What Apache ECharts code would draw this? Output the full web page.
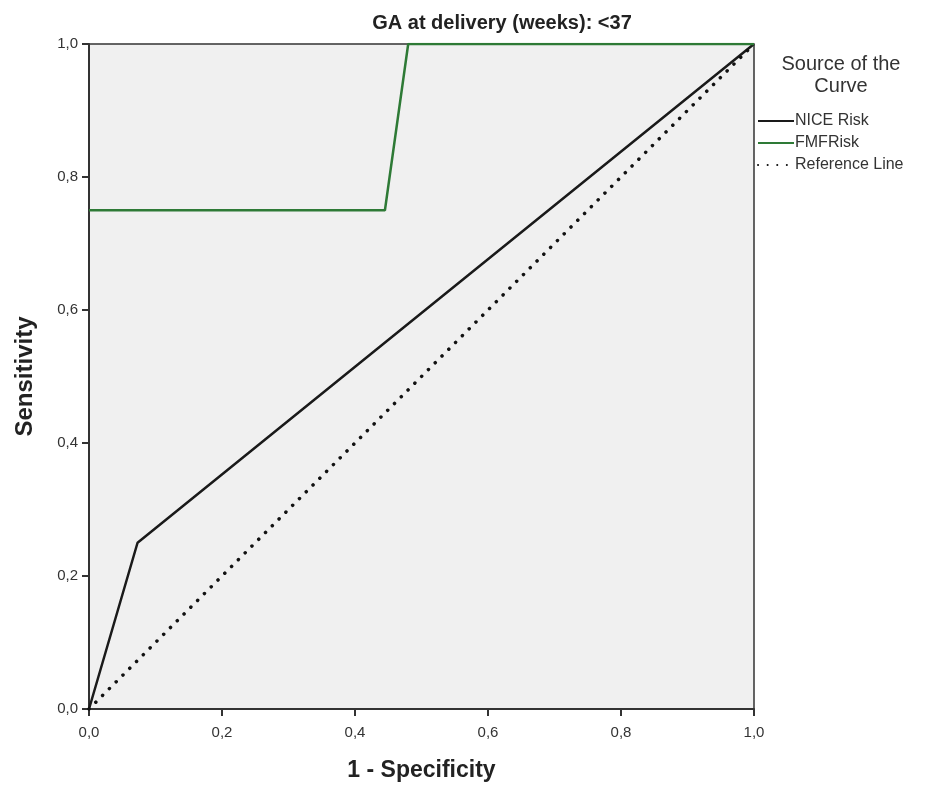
<!DOCTYPE html>
<html>
<head>
<meta charset="utf-8">
<script src="https://cdn.jsdelivr.net/npm/echarts@6/dist/echarts.min.js"></script>
<style>
html,body{margin:0;padding:0;background:#fff;}
#chart{width:927px;height:787px;}
</style>
</head>
<body>
<div id="chart"></div>
<script>
const chartTitle = 'GA at delivery (weeks): <37';
const legendTitle = 'Source of the\nCurve';
const seriesNames = ['NICE Risk', 'FMFRisk', 'Reference Line'];
const niceX = [0, 0.073, 1.0];
const niceY = [0, 0.25, 1.0];
const fmfX = [0, 0.445, 0.48, 1.0];
const fmfY = [0.75, 0.75, 1.0, 1.0];
const refX = [0, 1.0];
const refY = [0, 1.0];

const zip = (xs, ys) => xs.map((x, i) => [x, ys[i]]);
const fmt = v => v.toFixed(1).replace('.', ',');
const font = 'Liberation Sans, Arial, sans-serif';

const chart = echarts.init(document.getElementById('chart'));
chart.setOption({
  animation: false,
  backgroundColor: '#fff',
  title: [
    { text: chartTitle, left: 497, top: 8, textAlign: 'center',
      textStyle: { fontFamily: font, fontSize: 20, fontWeight: 'bold', color: '#222' } },
    { text: legendTitle, left: 836, top: 48, textAlign: 'center',
      textStyle: { fontFamily: font, fontSize: 20, fontWeight: 'normal', color: '#333', lineHeight: 22 } }
  ],
  grid: { left: 89, right: 173, top: 44, bottom: 78, show: true,
    backgroundColor: '#f0f0f0', borderColor: '#333', borderWidth: 1.5 },
  legend: {
    orient: 'vertical', left: 752, top: 108, itemWidth: 36, itemHeight: 14, itemGap: 6,
    itemStyle: { opacity: 0 },
    textStyle: { fontFamily: font, fontSize: 16, color: '#333', padding: [0,0,0,-4] },
    data: seriesNames
  },
  xAxis: {
    type: 'value', min: 0, max: 1, interval: 0.2,
    name: '1 - Specificity', nameLocation: 'middle', nameGap: 50,
    nameTextStyle: { fontFamily: font, fontSize: 23, fontWeight: 'bold', color: '#222' },
    axisLine: { show: true, lineStyle: { color: '#333', width: 2 } },
    axisTick: { show: true, length: 7, lineStyle: { color: '#333', width: 2 } },
    axisLabel: { formatter: fmt, fontFamily: font, fontSize: 15, color: '#333', margin: 16 },
    splitLine: { show: false }
  },
  yAxis: {
    type: 'value', min: 0, max: 1, interval: 0.2,
    name: 'Sensitivity', nameLocation: 'middle', nameGap: 52,
    nameTextStyle: { fontFamily: font, fontSize: 24, fontWeight: 'bold', color: '#222' },
    axisLine: { show: true, lineStyle: { color: '#333', width: 2 } },
    axisTick: { show: true, length: 7, lineStyle: { color: '#333', width: 2 } },
    axisLabel: { formatter: fmt, fontFamily: font, fontSize: 15, color: '#333', margin: 11 },
    splitLine: { show: false }
  },
  series: [
    { name: seriesNames[0], type: 'line', data: zip(niceX, niceY), symbol: 'none',
      lineStyle: { color: '#1a1a1a', width: 2.5 }, itemStyle: { color: '#1a1a1a' } },
    { name: seriesNames[1], type: 'line', data: zip(fmfX, fmfY), symbol: 'none',
      lineStyle: { color: '#2e7a36', width: 2.5 }, itemStyle: { color: '#2e7a36' } },
    { name: seriesNames[2], type: 'line', data: zip(refX, refY), symbol: 'none',
      lineStyle: { color: '#111', width: 3.5, type: [0.1, 9.5], cap: 'round' }, itemStyle: { color: '#111' } }
  ]
});
</script>
</body>
</html>
